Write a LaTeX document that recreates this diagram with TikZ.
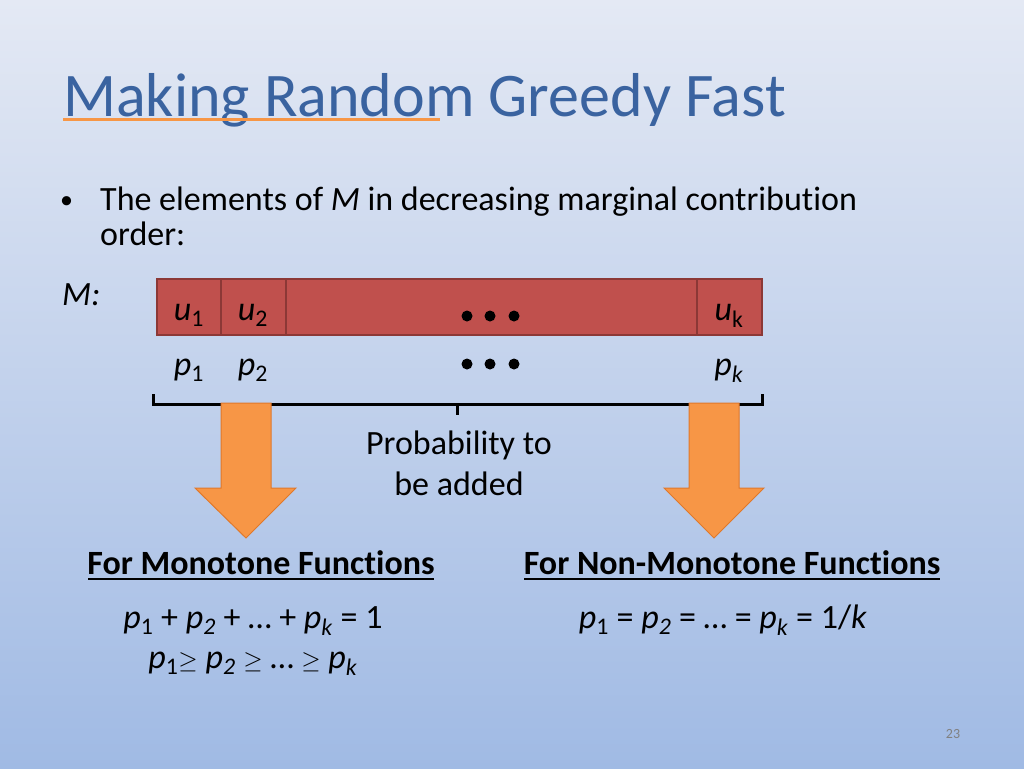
\documentclass[tikz,border=0pt]{standalone}
\usepackage{fontspec}
\setmainfont{Carlito}[Ligatures={NoCommon}]
\begin{document}
\begin{tikzpicture}[x=1pt,y=-1pt,
  arr/.style={line width=1pt},
  txt/.style={inner sep=0pt,font=\fontsize{34}{38}\selectfont}]
\definecolor{bartop}{HTML}{C0504D}\definecolor{barline}{HTML}{8C3836}
\definecolor{orf}{HTML}{F79646}\definecolor{ord}{HTML}{E0782A}
\definecolor{ttl}{HTML}{3A63A0}
\fill[top color={rgb,255:red,228;green,233;blue,244},bottom color={rgb,255:red,160;green,186;blue,228}] (0,0) rectangle (1024,768);
\useasboundingbox (0,0) rectangle (1024,768);
\node[anchor=base west,inner sep=0pt,text=ttl,font=\fontsize{62}{68}\selectfont] (title) at (63,116) {Making Random Greedy Fast};
\draw[orf,line width=3pt] (63,119) -- (440,119);
\node[anchor=base west,txt,font=\fontsize{26}{30}\selectfont] (b) at (60,208) {•};
\node[anchor=base west,txt,align=left] (l1) at (100,210) {The elements of \textit{M} in decreasing marginal contribution};
\node[anchor=base west,txt] (l2) at (100,245) {order:};
\node[anchor=base west,txt] (m) at (62,305) {\textit{M:}};
\tikzset{cell/.style={draw=barline,fill=bartop,line width=1.5pt}}
\draw[cell] (157,279) rectangle (221,335);
\draw[cell] (221,279) rectangle (286,335);
\draw[cell] (286,279) rectangle (697,335);
\draw[cell] (697,279) rectangle (762,335);
\node[anchor=base,txt] (u1) at (189,320) {\textit{u}\textsubscript{1}};
\node[anchor=base,txt] (u2) at (253,320) {\textit{u}\textsubscript{2}};
\node[anchor=base,txt] (u3) at (729,320) {\textit{u}\textsubscript{k}};
\foreach \x in {467,490,514}{\fill (\x,316) circle (5.5);\fill (\x,364) circle (5.5);}
\node[anchor=base,txt] (p1) at (189,375) {\textit{p}\textsubscript{1}};
\node[anchor=base,txt] (p2) at (253,375) {\textit{p}\textsubscript{2}};
\node[anchor=base,txt] (pk) at (729,375) {\textit{p}\textsubscript{\textit{k}}};
\draw[line width=3pt] (153,394) -- (153,404) -- (762,404) -- (762,394);
\draw[line width=3pt] (457,404) -- (457,415);
\draw[arr,draw=ord,fill=orf] (221,403) -- (271,403) -- (271,488) -- (296,488) -- (246,538) -- (195,488) -- (221,488) -- cycle;
\draw[arr,draw=ord,fill=orf] (689,403) -- (739,403) -- (739,488) -- (764,488) -- (714,538) -- (664,488) -- (689,488) -- cycle;
\node[txt,align=center,font=\fontsize{34}{41}\selectfont] (prob) at (459,463) {Probability to\\be added};
\node[anchor=base,txt] (h1) at (261,574) {\textbf{For Monotone Functions}};
\draw[line width=1.5pt] (88,579) -- (434,579);
\node[anchor=base,txt] (h2) at (732,574) {\textbf{For Non-Monotone Functions}};
\draw[line width=1.5pt] (524,579) -- (940,579);
\node[anchor=base,txt] (f1) at (253,628) {\textit{p}\textsubscript{1} + \textit{p}\textsubscript{\textit{2}} + … + \textit{p}\textsubscript{\textit{k}} = 1};
\node[anchor=base,txt] (f2) at (253,668) {\textit{p}\textsubscript{1}$\geq$ \textit{p}\textsubscript{\textit{2}} $\geq$ … $\geq$ \textit{p}\textsubscript{\textit{k}}};
\node[anchor=base,txt] (f3) at (723,628) {\textit{p}\textsubscript{1} = \textit{p}\textsubscript{\textit{2}} = … = \textit{p}\textsubscript{\textit{k}} = 1/\textit{k}};
\node[anchor=base,inner sep=0pt,text=gray,font=\fontsize{14}{16}\selectfont] (pg) at (953,738) {23};
\end{tikzpicture}
\end{document}
